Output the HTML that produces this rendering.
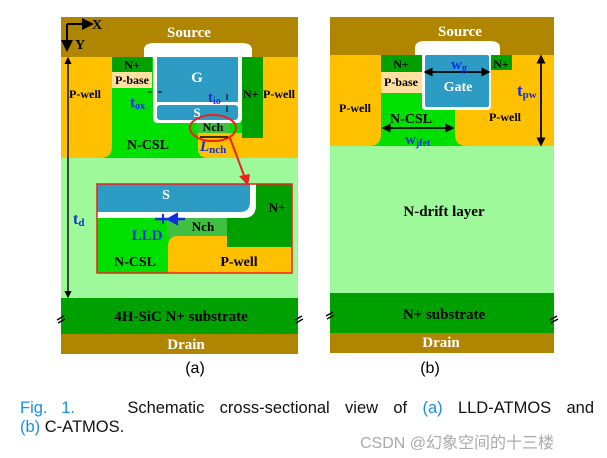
<!DOCTYPE html>
<html><head><meta charset="utf-8"><style>
body{margin:0;width:607px;height:458px;background:#fff;overflow:hidden;position:relative;font-family:"Liberation Sans",sans-serif}
svg{position:absolute;left:0;top:0}
.cap{position:absolute;left:20px;top:398px;width:574px;font-size:16.5px;line-height:20px;color:#111;text-align:justify;text-align-last:justify}
.cap2{position:absolute;left:20px;top:418px;font-size:16.5px;color:#111}
.b{color:#1a8fe0}
.fig{display:inline-block;width:92px;text-align:left;text-align-last:left}
.wm{position:absolute;left:360px;top:429px;font-family:"Liberation Sans","Noto Sans CJK SC",sans-serif;font-size:16px;color:#aaa}
</style></head><body>
<svg width="607" height="458" viewBox="0 0 607 458" font-family="Liberation Serif,serif" font-weight="bold">
<defs><marker id="ak" markerWidth="6" markerHeight="6" refX="5" refY="3" orient="auto"><path d="M0,0L6,3L0,6z" fill="#000"/></marker></defs>
<!-- Panel a -->
<rect x="61" y="17" width="237" height="40" fill="#b08500"/>
<rect x="61" y="57" width="237" height="101" fill="#00e000"/>
<path d="M61,57H112V146Q112,158 100,158H61z" fill="#ffc000"/>
<rect x="112" y="57" width="40" height="15" fill="#00a000"/>
<rect x="112" y="72" width="40" height="16" fill="#ffe0a0"/>
<rect x="263" y="57" width="35" height="101" fill="#ffc000"/>
<path d="M198,133H263V158H208Q198,158 198,148z" fill="#ffc000"/>
<rect x="242" y="57" width="21" height="81" fill="#00a000"/>
<rect x="197" y="123" width="33" height="10" fill="#40c040"/>
<path d="M144,57V50Q144,43 154,43H242Q252,43 252,50V57H242V118Q242,123 237,123H158Q153,123 153,118V57z" fill="#fff"/>
<rect x="157" y="57" width="81" height="45" fill="#2c9cc4"/>
<rect x="157" y="105" width="81" height="15" rx="3" fill="#2c9cc4"/>
<rect x="61" y="158" width="237" height="140" fill="#9ef99a"/>
<rect x="61" y="298" width="237" height="36" fill="#00a000"/>
<rect x="61" y="334" width="237" height="20" fill="#b08500"/>
<!-- inset -->
<rect x="97" y="184" width="195" height="89" fill="#00e000"/>
<rect x="167" y="212" width="60" height="25" fill="#40c040"/>
<path d="M168,246Q168,236 178,236H292V273H168z" fill="#ffc000"/>
<rect x="227" y="184" width="65" height="63" fill="#00a000"/>
<path d="M97,184H256V205Q256,218 243,218H97z" fill="#fff"/>
<path d="M97,184H250V202Q250,212 240,212H97z" fill="#2c9cc4"/>
<rect x="97" y="184" width="195" height="89" fill="none" stroke="#f02020" stroke-width="1.5"/>
<line x1="155" y1="219" x2="185" y2="219" stroke="#1030e0" stroke-width="2.5"/>
<path d="M163,214V224M168,219L177,214V224z" stroke="#1030e0" stroke-width="2" fill="#1030e0"/>
<ellipse cx="213" cy="128" rx="23" ry="13" fill="none" stroke="#f02020" stroke-width="2"/>
<line x1="230" y1="138" x2="245" y2="178" stroke="#f02020" stroke-width="2"/>
<path d="M239,176L248,186L250,174z" fill="#f02020"/>
<!-- axes -->
<path d="M67,24H92" stroke="#000" stroke-width="2" fill="none" marker-end="url(#ak)"/>
<line x1="67" y1="24" x2="67" y2="50" stroke="#000" stroke-width="2" marker-end="url(#ak)"/>
<line x1="68" y1="296" x2="68" y2="58" stroke="#000" stroke-width="1.2" marker-end="url(#ak)"/>
<line x1="68" y1="60" x2="68" y2="297" stroke="#000" stroke-width="1.2" marker-end="url(#ak)"/>
<line x1="200" y1="137" x2="228" y2="137" stroke="#000" stroke-width="1.5"/>
<line x1="148" y1="92" x2="152" y2="92" stroke="#000"/><line x1="158" y1="92" x2="162" y2="92" stroke="#000"/>
<line x1="227" y1="94" x2="227" y2="100" stroke="#000"/><line x1="227" y1="106" x2="227" y2="112" stroke="#000"/>
<g font-size="14" fill="#000">
<text x="92" y="29">X</text><text x="75" y="49">Y</text>
<text x="189" y="37" fill="#fff" font-size="15" text-anchor="middle">Source</text>
<text x="132" y="69" text-anchor="middle" font-size="12">N+</text>
<text x="132" y="84" text-anchor="middle" font-size="12">P-base</text>
<text x="85" y="98" text-anchor="middle" font-size="12">P-well</text>
<text x="243" y="98" font-size="12">N+</text>
<text x="263" y="98" font-size="12">P-well</text>
<text x="197" y="82" fill="#fff" text-anchor="middle" font-size="15">G</text>
<text x="197" y="117" fill="#fff" font-size="13" text-anchor="middle">S</text>
<text x="213" y="131" font-size="12" text-anchor="middle">Nch</text>
<text x="130" y="107" fill="#1030e0" font-size="15">t<tspan font-size="10" dy="2">ox</tspan></text>
<text x="208" y="102" fill="#1030e0" font-size="15">t<tspan font-size="10" dy="2">io</tspan></text>
<text x="148" y="149" text-anchor="middle">N-CSL</text>
<text x="200" y="151" fill="#1030e0" font-style="italic" font-size="15">L<tspan font-size="11" dy="2" font-style="normal">nch</tspan></text>
<text x="73" y="224" fill="#1030e0" font-size="16">t<tspan font-size="11" dy="2">d</tspan></text>
<text x="166" y="199" fill="#fff" text-anchor="middle">S</text>
<text x="277" y="212" text-anchor="middle" font-size="13">N+</text>
<text x="203" y="231" text-anchor="middle" font-size="13">Nch</text>
<text x="147" y="240" fill="#1030e0" text-anchor="middle" font-size="15">LLD</text>
<text x="135" y="266" text-anchor="middle" font-size="14">N-CSL</text>
<text x="239" y="266" text-anchor="middle" font-size="14">P-well</text>
<text x="181" y="321" text-anchor="middle" font-size="15">4H-SiC N+ substrate</text>
<text x="186" y="349" fill="#fff" text-anchor="middle" font-size="15">Drain</text>
</g>
<text x="195" y="373" font-family="Liberation Sans,sans-serif" font-size="16" font-weight="normal" text-anchor="middle">(a)</text>
<!-- Panel b -->
<rect x="330" y="17" width="224" height="38" fill="#b08500"/>
<rect x="330" y="55" width="224" height="91" fill="#00e000"/>
<path d="M330,55H381V134Q381,146 369,146H330z" fill="#ffc000"/>
<path d="M455,55H554V146H467Q455,146 455,134z" fill="#ffc000"/>
<rect x="381" y="55" width="41" height="17" fill="#00a000"/>
<rect x="381" y="72" width="41" height="21" fill="#ffe0a0"/>
<rect x="491" y="55" width="21" height="15" fill="#00a000"/>
<path d="M415,55V48Q415,41 425,41H490Q500,41 500,48V55H491V106Q491,110 487,110H426Q422,110 422,106V55z" fill="#fff"/>
<rect x="425" y="55" width="64" height="52" rx="2" fill="#2c9cc4"/>
<rect x="330" y="146" width="224" height="147" fill="#9ef99a"/>
<rect x="330" y="293" width="224" height="40" fill="#00a000"/>
<rect x="330" y="333" width="224" height="20" fill="#b08500"/>
<line x1="425" y1="72" x2="489" y2="72" stroke="#000" stroke-width="1.5" marker-end="url(#ak)"/>
<line x1="489" y1="72" x2="425" y2="72" stroke="#000" stroke-width="1.5" marker-end="url(#ak)"/>
<line x1="383" y1="128" x2="453" y2="128" stroke="#000" stroke-width="1.5" marker-end="url(#ak)"/>
<line x1="453" y1="128" x2="383" y2="128" stroke="#000" stroke-width="1.5" marker-end="url(#ak)"/>
<line x1="541" y1="56" x2="541" y2="145" stroke="#000" stroke-width="1.5" marker-end="url(#ak)"/>
<line x1="541" y1="145" x2="541" y2="56" stroke="#000" stroke-width="1.5" marker-end="url(#ak)"/>
<g font-size="14" fill="#000">
<text x="460" y="36" fill="#fff" font-size="15" text-anchor="middle">Source</text>
<text x="401" y="68" font-size="12" text-anchor="middle">N+</text>
<text x="501" y="68" font-size="12" text-anchor="middle">N+</text>
<text x="401" y="86" font-size="12" text-anchor="middle">P-base</text>
<text x="355" y="112" font-size="12" text-anchor="middle">P-well</text>
<text x="505" y="121" font-size="12" text-anchor="middle">P-well</text>
<text x="458" y="91" fill="#fff" text-anchor="middle">Gate</text>
<text x="451" y="69" fill="#1030e0" font-size="15">w<tspan font-size="10" dy="2">g</tspan></text>
<text x="411" y="123" text-anchor="middle">N-CSL</text>
<text x="405" y="144" fill="#1030e0" font-size="15">w<tspan font-size="10" dy="2">jfet</tspan></text>
<text x="517" y="96" fill="#1030e0" font-size="17">t<tspan font-size="11" dy="2">pw</tspan></text>
<text x="444" y="216" text-anchor="middle" font-size="15">N-drift layer</text>
<text x="444" y="319" text-anchor="middle" font-size="15">N+ substrate</text>
<text x="441" y="347" fill="#fff" text-anchor="middle" font-size="15">Drain</text>
</g>
<text x="430" y="373" font-family="Liberation Sans,sans-serif" font-size="16" font-weight="normal" text-anchor="middle">(b)</text>
<g stroke="#000" stroke-width="1.3">
<path d="M57,320L64,316M58,323L65,319"/><path d="M295,320L302,316M296,323L303,319"/>
<path d="M326,316L333,312M327,319L334,315"/><path d="M550,320L557,316M551,323L558,319"/>
</g>
</svg>
<div class="cap"><span class="fig b">Fig.&nbsp;&nbsp;&nbsp;1.</span> Schematic cross-sectional view of <span class="b">(a)</span> LLD-ATMOS and</div>
<div class="cap2"><span class="b">(b)</span> C-ATMOS.</div>
<div class="wm">CSDN @幻象空间的十三楼</div>
</body></html>
